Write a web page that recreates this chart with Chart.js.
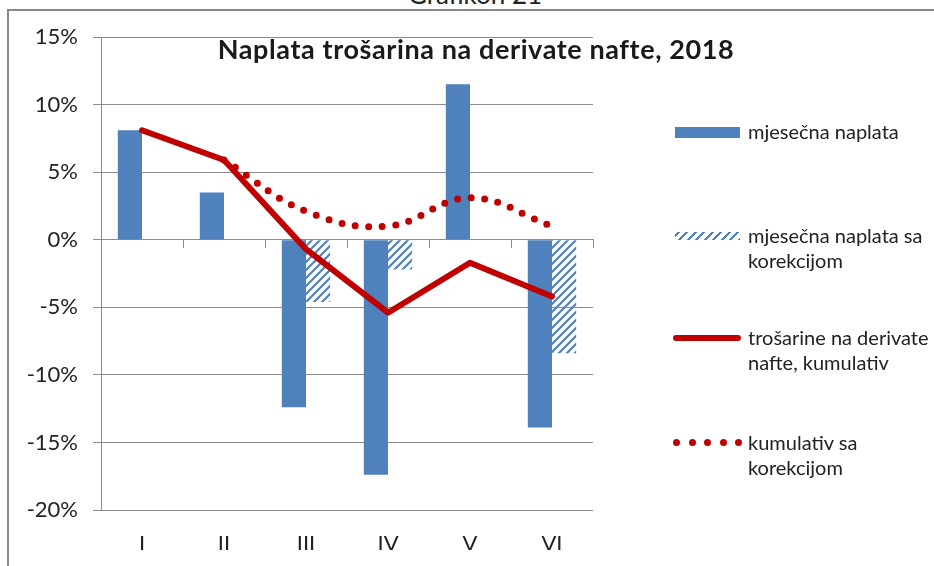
<!DOCTYPE html>
<html>
<head>
<meta charset="utf-8">
<script src="https://cdn.jsdelivr.net/npm/chart.js@4"></script>
<style>
  body { margin: 0; background: #fff; font-family: Lato, sans-serif; }
  #wrap { position: relative; width: 934px; height: 566px; overflow: hidden; background: #fff; }
  #frame { position: absolute; left: 7px; top: 9px; right: -10px; bottom: -10px;
           border-top: 2px solid #8a8a8a; border-left: 2px solid #8a8a8a; }
  #cap { position: absolute; left: 475px; top: -19px; transform: translateX(-50%);
         font-size: 26px; line-height: 26px; color: #222; white-space: nowrap; }
  #title { position: absolute; left: 476px; top: 34px; transform: translateX(-50%);
           font-size: 27px; letter-spacing: 0.6px; font-weight: bold; line-height: 30px; color: #1a1a1a; white-space: nowrap; }
  #chart { position: absolute; left: 0; top: 0; width: 934px; height: 566px; }
  .item { position: absolute; left: 748px; font-size: 20px; line-height: 25px; color: #222; white-space: nowrap; }
  .sw { position: absolute; left: 675px; width: 65px; }
  .dot { position: absolute; width: 7px; height: 7px; border-radius: 4px; background: #c00000; }
</style>
</head>
<body>
<div id="wrap">
  <div id="frame"></div>
  <div id="cap">Grafikon 21</div>
  <div id="chart"><canvas id="c"></canvas></div>
  <div id="title">Naplata trošarina na derivate nafte, 2018</div>

  <div class="sw" style="top:127px;height:11px;background:#4f81bd"></div>
  <div class="item" style="top:119px">mjesečna naplata</div>

  <div class="sw" style="top:232px;height:8px;background:repeating-linear-gradient(-45deg,#4f81bd 0 2px,transparent 2px 6px)"></div>
  <div class="item" style="top:223px">mjesečna naplata sa<br>korekcijom</div>

  <div class="sw" style="left:673px;width:68px;top:335px;height:6px;border-radius:3px;background:#c00000"></div>
  <div class="item" style="top:325px">trošarine na derivate<br>nafte, kumulativ</div>

  <div id="dots"></div>
  <div class="item" style="top:430px">kumulativ sa<br>korekcijom</div>
</div>
<script>
const mjeseci = ["I", "II", "III", "IV", "V", "VI"];
const mjesecnaNaplata = [8.1, 3.5, -12.4, -17.4, 11.5, -13.9];
const naplataKorekcija = [null, null, -4.6, -2.2, null, -8.4];
const kumulativ = [8.1, 5.9, -0.7, -5.4, -1.7, -4.2];
const kumulativKorekcija = [null, 5.9, 2.1, 1.0, 3.1, 1.0];
const yTicks = [15, 10, 5, 0, -5, -10, -15, -20];

const plava = "#4f81bd";
const crvena = "#c00000";
const siva = "#8c8c8c";

// legend dots
const dots = document.getElementById("dots");
for (let i = 0; i < 5; i++) {
  const d = document.createElement("div");
  d.className = "dot";
  d.style.left = (673 + i * 15.5) + "px";
  d.style.top = "439px";
  dots.appendChild(d);
}

function srafura() {
  const c = document.createElement("canvas");
  c.width = 8; c.height = 8;
  const g = c.getContext("2d");
  g.strokeStyle = plava;
  g.lineWidth = 2.2;
  g.beginPath();
  g.moveTo(-2, 10); g.lineTo(10, -2);
  g.moveTo(-2, 2); g.lineTo(2, -2);
  g.moveTo(6, 10); g.lineTo(10, 6);
  g.stroke();
  return g.createPattern(c, "repeat");
}

Chart.defaults.font.family = "Lato";

new Chart(document.getElementById("c"), {
  type: "bar",
  data: {
    labels: mjeseci,
    datasets: [
      {
        type: "line",
        label: "trošarine na derivate nafte, kumulativ",
        data: kumulativ,
        borderColor: crvena,
        borderWidth: 6,
        borderJoinStyle: "round",
        borderCapStyle: "round",
        pointRadius: 0,
        tension: 0,
        order: 0
      },
      {
        type: "line",
        label: "kumulativ sa korekcijom",
        data: kumulativKorekcija,
        borderColor: crvena,
        borderWidth: 7,
        borderDash: [0, 13.5],
        borderCapStyle: "round",
        pointRadius: 0,
        tension: 0.4,
        order: 0
      },
      {
        label: "mjesečna naplata",
        data: mjesecnaNaplata,
        backgroundColor: plava,
        barPercentage: 1,
        categoryPercentage: 0.59,
        order: 1
      },
      {
        label: "mjesečna naplata sa korekcijom",
        data: naplataKorekcija,
        backgroundColor: srafura(),
        barPercentage: 1,
        categoryPercentage: 0.59,
        order: 1
      }
    ]
  },
  options: {
    responsive: true,
    maintainAspectRatio: false,
    animation: false,
    layout: { padding: { left: 0, right: 341, top: 37, bottom: 16 } },
    plugins: {
      legend: { display: false },
      tooltip: { enabled: false }
    },
    scales: {
      x: {
        offset: true,
        grid: { display: false, drawTicks: false },
        border: { display: false },
        ticks: { padding: 21, color: "#222", font: { size: 22 } },
        afterFit: s => { s.height = 40; }
      },
      x0: {
        type: "category",
        position: { y: 0 },
        offset: true,
        grid: { offset: true, drawOnChartArea: false, tickLength: 8, color: siva },
        border: { display: true, color: siva },
        ticks: { display: false }
      },
      y: {
        min: -20,
        max: 15,
        afterBuildTicks: s => { s.ticks = yTicks.map(v => ({ value: v })); },
        ticks: { padding: 15, color: "#222", font: { size: 22 }, callback: v => v + "%" },
        grid: { color: siva, tickLength: 8 },
        border: { color: siva },
        afterFit: s => { s.width = 101; }
      }
    }
  }
});
</script>
</body>
</html>
